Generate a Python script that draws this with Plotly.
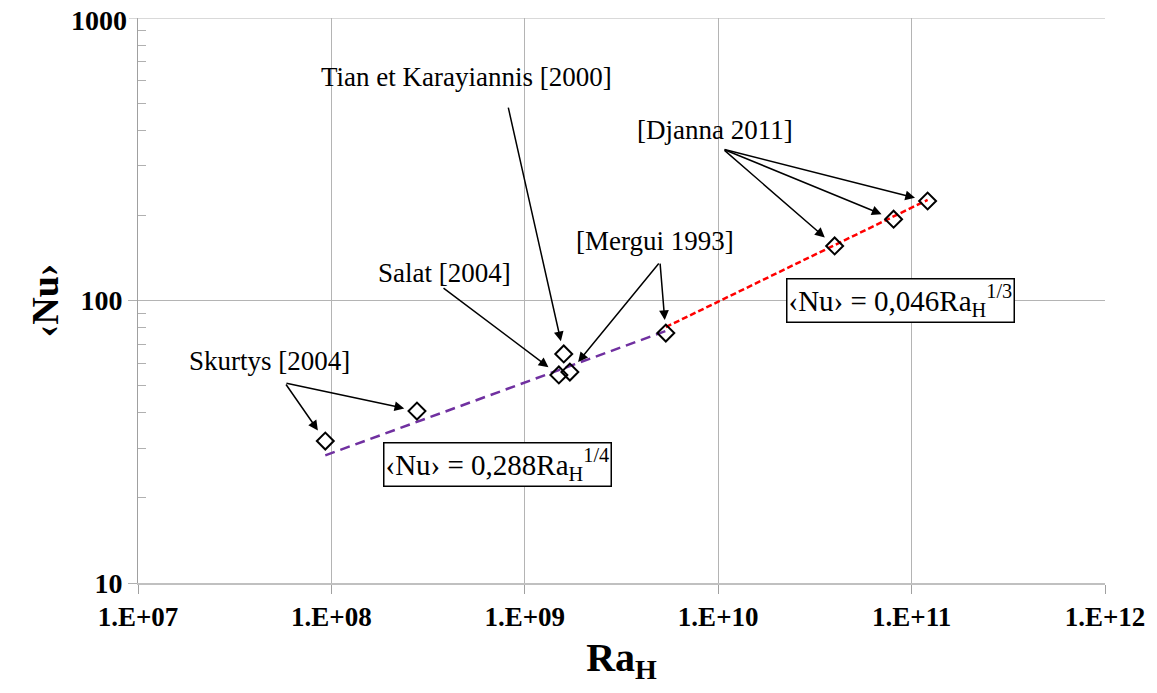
import numpy as np
import plotly.graph_objects as go

# Measured points (Ra_H, <Nu>)
ra_data = [9.3e7, 2.77e8, 1.50e9, 1.59e9, 1.71e9, 5.36e9, 4.0e10, 8.07e10, 1.21e11]
nu_data = [31.8, 40.6, 54.5, 64.7, 55.8, 76.7, 156, 194, 225]

# Correlation segments
ra_lam = [9.3e7, 5.36e9]
nu_lam = [28.3, 78.0]
ra_turb = [5.36e9, 1.21e11]
nu_turb = [80.5, 227]

x_tickvals = [1e7, 1e8, 1e9, 1e10, 1e11, 1e12]
x_ticktext = ['1.E+07', '1.E+08', '1.E+09', '1.E+10', '1.E+11', '1.E+12']
y_tickvals = [10, 100]
y_ticktext = ['10', '100']
y_top = 1000  # top tick is drawn by hand, plotly drops it at the range edge
y_minor = [20, 30, 40, 50, 60, 70, 80, 90, 200, 300, 400, 500, 600, 700, 800, 900]

# Source labels: text, label centre (Ra, Nu), arrow tail (Ra, Nu), indices of targeted points
sources = [
    ('Skurtys [2004]', (10**7.682, 10**1.787), (10**7.760, 10**1.708), [0, 1]),
    ('Salat [2004]', (10**8.587, 10**2.097), (10**8.572, 10**2.048), [2]),
    ('Tian et Karayiannis [2000]', (10**8.696, 10**2.791), (10**8.913, 10**2.688), [3]),
    ('[Mergui 1993]', (10**9.673, 10**2.210), (10**9.699, 10**2.136), [4, 5]),
    ('[Djanna 2011]', (10**9.984, 10**2.604), (10**10.025, 10**2.536), [6, 7, 8]),
]

SERIF = 'Liberation Serif, Times New Roman, serif'
GRID = '#b4b4b4'

fig = go.Figure()

fig.add_trace(go.Scatter(
    x=ra_lam, y=nu_lam, mode='lines',
    line=dict(color='#7030A0', width=2.5, dash='10px,6px'),
    showlegend=False, hoverinfo='skip'))
fig.add_trace(go.Scatter(
    x=ra_turb, y=nu_turb, mode='lines',
    line=dict(color='#FF0000', width=2.5, dash='6px,3px'),
    showlegend=False, hoverinfo='skip'))
fig.add_trace(go.Scatter(
    x=ra_data, y=nu_data, mode='markers',
    marker=dict(symbol='diamond-open', size=13, color='black', line=dict(width=2, color='black')),
    showlegend=False))

annotations = []
for text, (lx, ly), (tx, ty), idx in sources:
    annotations.append(dict(
        x=np.log10(lx), y=np.log10(ly), xref='x', yref='y', text=text, showarrow=False,
        font=dict(family=SERIF, size=27, color='black')))
    for i in idx:
        annotations.append(dict(
            x=np.log10(ra_data[i]), y=np.log10(nu_data[i]), xref='x', yref='y',
            ax=np.log10(tx), ay=np.log10(ty), axref='x', ayref='y', text='',
            showarrow=True, arrowhead=2, arrowsize=1.3, arrowwidth=1.5, arrowcolor='black',
            standoff=13))

# Correlation boxes
annotations.append(dict(
    x=np.log10(10**8.86), y=np.log10(10**1.420), xref='x', yref='y',
    text='\u2039Nu\u203a = 0,288Ra<sub>H</sub><sup>1/4</sup>', showarrow=False,
    font=dict(family=SERIF, size=29, color='black'),
    bordercolor='black', borderwidth=1.5, borderpad=1, bgcolor='white'))
annotations.append(dict(
    x=np.log10(10**10.945), y=np.log10(10**2.000), xref='x', yref='y',
    text='\u2039Nu\u203a = 0,046Ra<sub>H</sub><sup>1/3</sup>', showarrow=False,
    font=dict(family=SERIF, size=29, color='black'),
    bordercolor='black', borderwidth=1.5, borderpad=1, bgcolor='white'))

# top "1000" label
annotations.append(dict(
    x=0, y=np.log10(y_top), xref='paper', yref='y', xanchor='right', xshift=-10,
    yanchor='top', yshift=14, borderpad=0,
    text=str(y_top), showarrow=False,
    font=dict(family=SERIF, size=28, color='black', weight='bold')))

shapes = [
    dict(type='line', xref='paper', yref='y', x0=0, x1=1, y0=y_top, y1=y_top,
         line=dict(color=GRID, width=1), layer='below'),
    dict(type='line', xref='paper', yref='y', x0=-0.0093, x1=0, y0=y_top, y1=y_top,
         line=dict(color='#b0b0b0', width=1)),
]

# page body keeps its default 8px margin, so the figure is sized to fit inside it
fig.update_layout(
    width=1141, height=677,
    plot_bgcolor='white', paper_bgcolor='white',
    margin=dict(l=130, r=44, t=10, b=102),
    annotations=annotations,
    shapes=shapes,
    xaxis=dict(
        type='log', range=[7, 12], automargin=False,
        tickvals=x_tickvals, ticktext=x_ticktext,
        tickfont=dict(family=SERIF, size=27, color='black', weight='bold'),
        ticks='outside', ticklen=9, tickcolor='#a0a0a0',
        showgrid=True, gridcolor=GRID, gridwidth=1,
        showline=True, linecolor='#c0c0c0', linewidth=2,
        zeroline=False,
        title=dict(text='Ra<sub>H</sub>', standoff=18,
                   font=dict(family=SERIF, size=40, color='black', weight='bold')),
    ),
    yaxis=dict(
        type='log', range=[1, 3], automargin=False,
        tickvals=y_tickvals, ticktext=y_ticktext,
        tickfont=dict(family=SERIF, size=28, color='black', weight='bold'),
        ticks='outside', ticklen=9, tickcolor='#b0b0b0',
        minor=dict(tickmode='array', tickvals=y_minor, ticks='inside', ticklen=8,
                   tickcolor='#b0b0b0', showgrid=False),
        showgrid=True, gridcolor=GRID, gridwidth=1,
        showline=True, linecolor='#a0a0a0', linewidth=1,
        zeroline=False,
        title=dict(text='\u2039Nu\u203a', standoff=10,
                   font=dict(family=SERIF, size=38, color='black', weight='bold')),
    ),
)

fig.write_html('out.html')
